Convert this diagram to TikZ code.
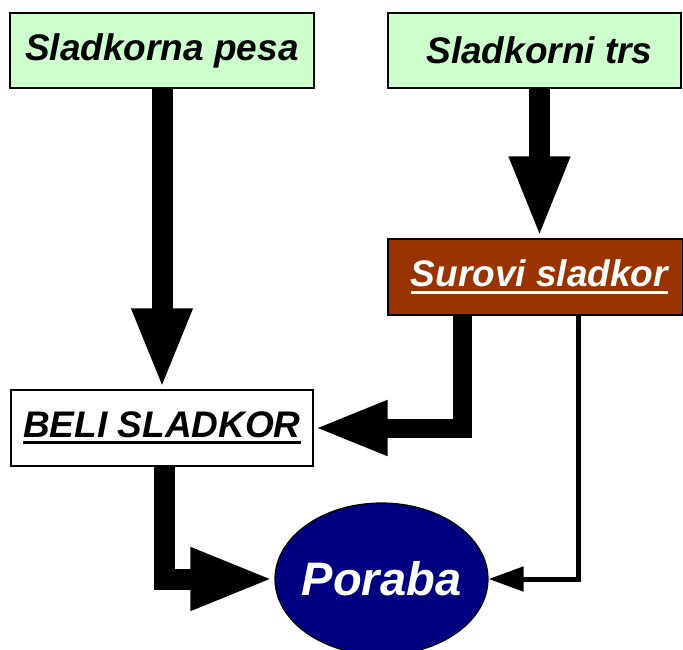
\documentclass[tikz,border=0pt]{standalone}
\usepackage{fontspec}
\setmainfont{Liberation Sans}
\usetikzlibrary{arrows.meta, shapes.geometric}

\definecolor{canegreen}{HTML}{CCFFCC}
\definecolor{rawbrown}{HTML}{993300}
\definecolor{usenavy}{HTML}{000080}

\newcommand\lined[1]{\setbox0\hbox{#1}\rlap{\rule[-7pt]{\wd0}{3pt}}\box0}

\begin{document}
\begin{tikzpicture}[x=1pt, y=-1pt,
  box/.style={draw, line width=1.2pt, rectangle, minimum height=75pt, inner sep=0pt,
    font=\fontsize{37}{44}\selectfont\bfseries\itshape},
  flow/.style={line width=#1}]

\useasboundingbox (0,0) rectangle (683,650);

% Sources
\node[box, fill=canegreen, minimum width=304pt] (pesa) at (162,50.5) {Sladkorna pesa};
\node[box, fill=canegreen, minimum width=293pt] (trs) at (534.5,50.5) {\hspace*{10pt}Sladkorni trs};

% Sugars
\node[box, fill=rawbrown, text=white, minimum width=295pt, minimum height=76pt] (surovi) at (535.5,277) {\hspace*{8pt}\lined{Surovi sladkor}};
\node[box, fill=white, minimum width=302pt, minimum height=76pt] (beli) at (162,428) {\lined{BELI SLADKOR}};

% Consumption
\node[draw, line width=1.2pt, ellipse, fill=usenavy, text=white, inner xsep=-5.5pt, inner ysep=0pt,
  minimum width=213pt, minimum height=152pt,
  font=\fontsize{47}{56}\selectfont\bfseries\itshape] (poraba) at (381.5,579) {Poraba};

% Thick arrows
\draw[flow=21pt, -{Triangle[length=81pt, width=55pt]}] (pesa.south) -- (beli.north);
\draw[flow=21pt, -{Triangle[length=82pt, width=55pt]}] ([xshift=5pt]trs.south) -- ([xshift=5pt]trs.south |- surovi.north);
\draw[flow=19pt, -{Triangle[length=74pt, width=50pt]}] ([xshift=-73pt]surovi.south) |- (beli.east);
\draw[flow=21pt, -{Triangle[length=84pt, width=57pt]}] ([xshift=2pt]beli.south) |- (poraba.west);

% Thin arrow
\draw[flow=5pt, -{Triangle[length=35pt, width=24pt]}] ([xshift=42.5pt]surovi.south) |- (poraba.east);

\end{tikzpicture}
\end{document}
